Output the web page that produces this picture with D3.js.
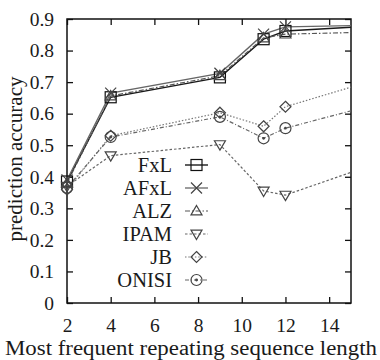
<!DOCTYPE html>
<html>
<head>
<meta charset="utf-8">
<script src="https://cdn.jsdelivr.net/npm/d3@7.9.0/dist/d3.min.js"></script>
<style>
  html, body { margin: 0; padding: 0; background: #fff; }
  svg { display: block; font-family: "Liberation Serif", "DejaVu Serif", serif; }
</style>
</head>
<body>
<svg id="chart" width="380" height="360"></svg>
<script>
// sequence lengths (x) and accuracy per method
const lengths = [2, 4, 9, 11, 12, 15];
const methods = ['FxL', 'AFxL', 'ALZ', 'IPAM', 'JB', 'ONISI'];
const fxl   = [0.385, 0.652, 0.715, 0.836, 0.862, 0.874];
const afxl  = [0.390, 0.665, 0.728, 0.852, 0.875, 0.879];
const alz   = [0.380, 0.656, 0.720, 0.840, 0.852, 0.857];
const ipam  = [0.370, 0.467, 0.502, 0.355, 0.342, 0.414];
const jb    = [0.360, 0.530, 0.603, 0.560, 0.622, 0.684];
const onisi = [0.365, 0.526, 0.590, 0.522, 0.554, 0.609];
const xTicks = [2, 4, 6, 8, 10, 12, 14];
const yTicks = [0, 0.1, 0.2, 0.3, 0.4, 0.5, 0.6, 0.7, 0.8, 0.9];

const seriesValues = [fxl, afxl, alz, ipam, jb, onisi];
const styles = {
  FxL:   { stroke: '#1a1a1a', dash: null,        width: 1.4, marker: 'square' },
  AFxL:  { stroke: '#666',    dash: null,        width: 1.3, marker: 'cross' },
  ALZ:   { stroke: '#555',    dash: '5,2,1.5,2', width: 1.2, marker: 'triUp' },
  IPAM:  { stroke: '#666',    dash: '2.5,2',     width: 1.2, marker: 'triDown' },
  JB:    { stroke: '#777',    dash: '1.5,1.8',   width: 1.2, marker: 'diamond' },
  ONISI: { stroke: '#666',    dash: '4,2,1,2',   width: 1.2, marker: 'circle' }
};

const svg = d3.select('#chart');
const margin = { left: 67, right: 29, top: 19, bottom: 57 };
const W = 380 - margin.left - margin.right;
const H = 360 - margin.top - margin.bottom;

const x = d3.scaleLinear().domain([2, 15]).range([margin.left, margin.left + W]);
const y = d3.scaleLinear().domain([0, 0.9]).range([margin.top + H, margin.top]);

svg.append('defs').append('clipPath').attr('id', 'plot')
  .append('rect')
  .attr('x', x(2)).attr('y', y(0.9))
  .attr('width', W).attr('height', H);

// axes: ticks inside, mirrored on top / right
const tickLen = 6;
svg.append('g').attr('transform', `translate(0,${y(0)})`)
  .call(d3.axisBottom(x).tickValues(xTicks).tickSize(-tickLen).tickPadding(15).tickFormat(d3.format('d')))
  .call(g => g.select('.domain').remove());
svg.append('g').attr('transform', `translate(0,${y(0.9)})`)
  .call(d3.axisTop(x).tickValues(xTicks).tickSize(-tickLen).tickFormat(''))
  .call(g => g.select('.domain').remove());
svg.append('g').attr('transform', `translate(${x(2)},0)`)
  .call(d3.axisLeft(y).tickValues(yTicks).tickSize(-tickLen).tickPadding(13).tickFormat(d => d === 0 ? '0' : d3.format('.1f')(d)))
  .call(g => g.select('.domain').remove());
svg.append('g').attr('transform', `translate(${x(15)},0)`)
  .call(d3.axisRight(y).tickValues(yTicks).tickSize(-tickLen).tickFormat(''))
  .call(g => g.select('.domain').remove());

svg.selectAll('.tick line').attr('stroke', '#111').attr('stroke-width', 1.3);
svg.selectAll('.tick text')
  .attr('font-family', '"Liberation Serif", serif')
  .attr('font-size', 19.5)
  .attr('fill', '#1a1a1a');

// border box
svg.append('rect')
  .attr('x', x(2)).attr('y', y(0.9))
  .attr('width', x(15) - x(2)).attr('height', y(0) - y(0.9))
  .attr('fill', 'none').attr('stroke', '#111').attr('stroke-width', 1.5);

function drawMarker(g, type, cx, cy, color) {
  const s = 5.5;
  const m = g.append('g').attr('transform', `translate(${cx},${cy})`)
    .attr('fill', 'none').attr('stroke', color).attr('stroke-width', 1.2);
  if (type === 'square') {
    m.append('rect').attr('x', -s).attr('y', -s).attr('width', 2 * s).attr('height', 2 * s);
  } else if (type === 'cross') {
    m.append('path').attr('d', `M${-s},${-s}L${s},${s}M${-s},${s}L${s},${-s}`);
  } else if (type === 'triUp') {
    m.append('path').attr('d', `M0,${-s}L${s},${s * 0.7}L${-s},${s * 0.7}Z`);
  } else if (type === 'triDown') {
    m.append('path').attr('d', `M0,${s}L${s},${-s * 0.7}L${-s},${-s * 0.7}Z`);
  } else if (type === 'diamond') {
    m.append('path').attr('d', `M0,${-s}L${s},0L0,${s}L${-s},0Z`);
  } else if (type === 'circle') {
    m.append('circle').attr('r', s);
    m.append('circle').attr('r', 0.8).attr('fill', color);
  }
}

const line = d3.line().x(d => x(d[0])).y(d => y(d[1]));
const plot = svg.append('g').attr('clip-path', 'url(#plot)');

methods.forEach((name, i) => {
  const st = styles[name];
  const pts = lengths.map((l, j) => [l, seriesValues[i][j]]);
  plot.append('path')
    .datum(pts)
    .attr('d', line)
    .attr('fill', 'none')
    .attr('stroke', st.stroke)
    .attr('stroke-width', st.width)
    .attr('stroke-dasharray', st.dash);
  pts.filter(p => p[0] < 15).forEach(p => drawMarker(svg, st.marker, x(p[0]), y(p[1]), st.stroke === '#1a1a1a' ? '#111' : '#444'));
});

// legend
const legend = svg.append('g');
methods.forEach((name, i) => {
  const st = styles[name];
  const ly = 165 + i * 23;
  legend.append('text')
    .attr('x', 172).attr('y', ly).attr('dy', '0.35em')
    .attr('text-anchor', 'end')
    .attr('font-size', 20.5)
    .attr('fill', '#1a1a1a')
    .text(name);
  legend.append('line')
    .attr('x1', 185).attr('x2', 208).attr('y1', ly).attr('y2', ly)
    .attr('stroke', st.stroke).attr('stroke-width', st.width)
    .attr('stroke-dasharray', st.dash);
  drawMarker(legend, st.marker, 196.5, ly, st.stroke === '#1a1a1a' ? '#111' : '#444');
});

// axis titles
svg.append('text')
  .attr('x', 5).attr('y', 355)
  .attr('font-size', 20)
  .attr('fill', '#1a1a1a')
  .attr('textLength', 372).attr('lengthAdjust', 'spacingAndGlyphs')
  .text('Most frequent repeating sequence length');

svg.append('text')
  .attr('transform', 'translate(22,159) rotate(-90)')
  .attr('text-anchor', 'middle')
  .attr('font-size', 21)
  .attr('fill', '#1a1a1a')
  .text('prediction accuracy');
</script>
</body>
</html>
